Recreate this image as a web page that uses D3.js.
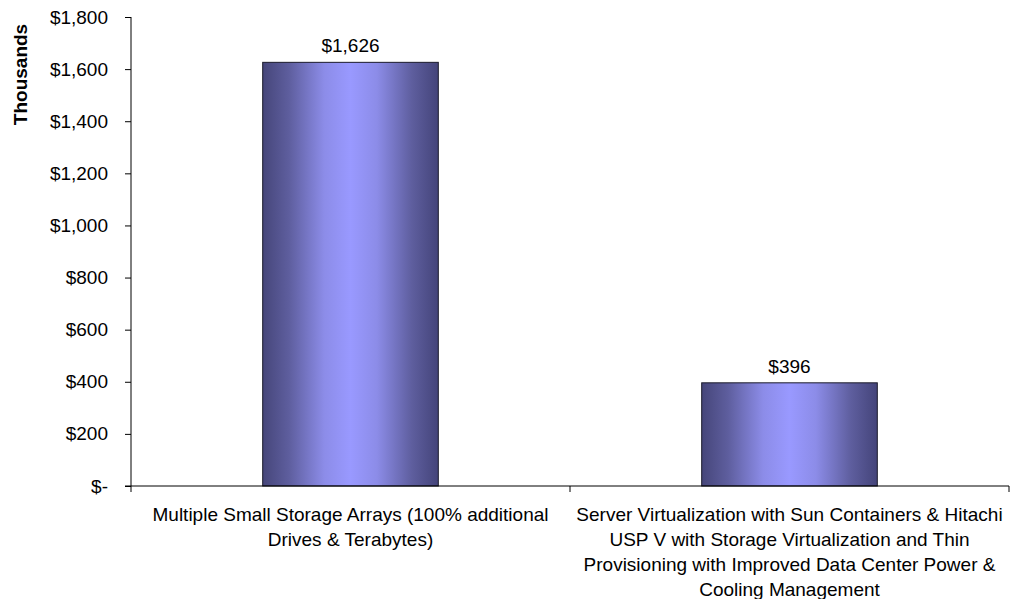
<!DOCTYPE html>
<html>
<head>
<meta charset="utf-8">
<script src="https://cdn.jsdelivr.net/npm/d3@7"></script>
<style>
  html, body { margin: 0; padding: 0; background: #fff; }
  svg { display: block; font-family: "Liberation Sans", Arial, sans-serif; }
</style>
</head>
<body>
<svg id="chart" width="1011" height="599"></svg>
<script>
// Cost comparison, values in thousands of dollars
const categories = [
  ["Multiple Small Storage Arrays (100% additional", "Drives & Terabytes)"],
  ["Server Virtualization with Sun Containers & Hitachi", "USP V with Storage Virtualization and Thin",
   "Provisioning with Improved Data Center Power &", "Cooling Management"]
];
const categoryKeys = ["storageArrays", "virtualization"];
const values = [1626, 396];
const yTicks = [0, 200, 400, 600, 800, 1000, 1200, 1400, 1600, 1800];
const yTitle = "Thousands";

const svg = d3.select("#chart");
const margin = { left: 131, right: 2, top: 17, bottom: 113 };
const W = 1011, H = 599;
const FS = 19;

const x = d3.scaleBand()
  .domain(categoryKeys)
  .range([margin.left, W - margin.right])
  .paddingInner(0.6)
  .paddingOuter(0.3);

const y = d3.scaleLinear()
  .domain([0, 1800])
  .range([H - margin.bottom, margin.top]);

const fmt = v => v === 0 ? "$-" : "$" + d3.format(",")(v);

// Horizontal gradient for the bars: dark edges, bright centre
const defs = svg.append("defs");
const grad = defs.append("linearGradient")
  .attr("id", "barGrad").attr("x1", "0").attr("x2", "1").attr("y1", "0").attr("y2", "0");
[[0, "#46467a"], [0.15, "#5e5e9e"], [0.35, "#8c8ce8"], [0.5, "#9999ff"],
 [0.65, "#8c8ce8"], [0.85, "#5e5e9e"], [1, "#44447a"]]
  .forEach(([o, c]) => grad.append("stop").attr("offset", o).attr("stop-color", c));

// Bars
svg.append("g").selectAll("rect")
  .data(values)
  .join("rect")
  .attr("x", (d, i) => x(categoryKeys[i]))
  .attr("y", d => y(d))
  .attr("width", x.bandwidth())
  .attr("height", d => y(0) - y(d))
  .attr("fill", "url(#barGrad)")
  .attr("stroke", "#1a1a2a")
  .attr("stroke-width", 1);

// Value labels
svg.append("g").selectAll("text")
  .data(values)
  .join("text")
  .attr("x", (d, i) => x(categoryKeys[i]) + x.bandwidth() / 2)
  .attr("y", d => y(d) - 10)
  .attr("text-anchor", "middle")
  .attr("font-size", FS)
  .attr("fill", "#000")
  .text(d => fmt(d));

// Y axis
const yAxis = d3.axisLeft(y).tickValues(yTicks).tickFormat(fmt).tickSize(6).tickPadding(17);
const gy = svg.append("g")
  .attr("transform", `translate(${margin.left},0)`)
  .call(yAxis);
gy.select(".domain").attr("stroke", "#000").attr("d", `M0,${y(1800)}V${y(0)}`);
gy.selectAll(".tick line").attr("stroke", "#000");
gy.selectAll(".tick text").attr("font-size", FS).attr("fill", "#000")
  .attr("font-family", "Liberation Sans, Arial, sans-serif");

// X axis: baseline with ticks at category boundaries
const boundaries = [margin.left, margin.left + (W - margin.right - margin.left) / 2, W - margin.right];
const gx = svg.append("g");
gx.append("line")
  .attr("x1", margin.left - 6).attr("x2", W - margin.right)
  .attr("y1", y(0)).attr("y2", y(0))
  .attr("stroke", "#000");
gx.selectAll("line.tick")
  .data(boundaries)
  .join("line")
  .attr("class", "tick")
  .attr("x1", d => d).attr("x2", d => d)
  .attr("y1", y(0)).attr("y2", y(0) + 6)
  .attr("stroke", "#000");

// Category labels
const catGroups = gx.selectAll("text.cat")
  .data(categories)
  .join("text")
  .attr("class", "cat")
  .attr("text-anchor", "middle")
  .attr("font-size", FS)
  .attr("fill", "#000");
catGroups.each(function(lines, i) {
  const cx = x(categoryKeys[i]) + x.bandwidth() / 2;
  d3.select(this).selectAll("tspan")
    .data(lines)
    .join("tspan")
    .attr("x", cx)
    .attr("y", (d, j) => y(0) + 35 + j * 25)
    .text(d => d);
});

// Y axis title
svg.append("text")
  .attr("transform", `translate(27,74.5) rotate(-90)`)
  .attr("text-anchor", "middle")
  .attr("font-size", 19)
  .attr("font-weight", "bold")
  .attr("fill", "#000")
  .text(yTitle);
</script>
</body>
</html>
